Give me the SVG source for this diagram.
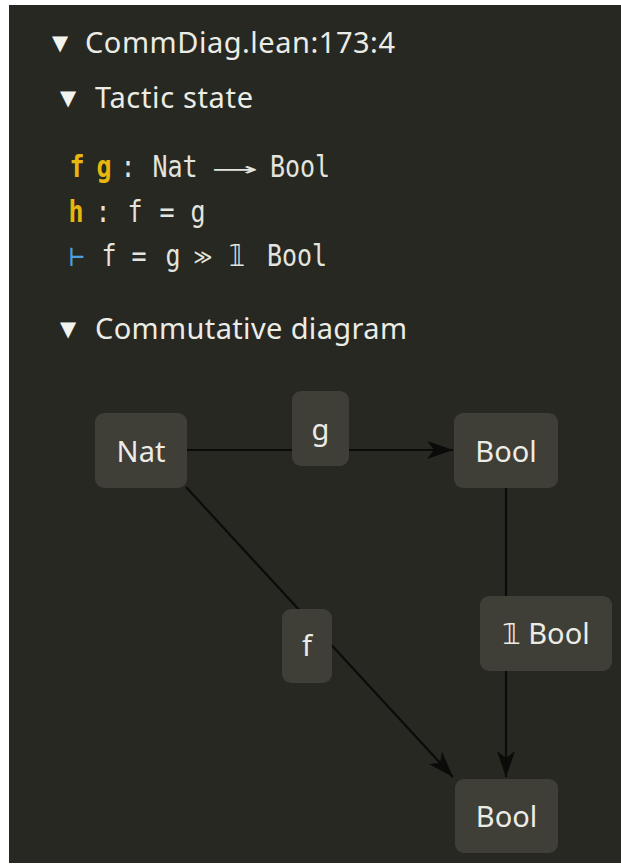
<svg xmlns="http://www.w3.org/2000/svg" width="621" height="865" viewBox="0 0 621 865">
<style>
  .hdr { font-family: "Noto Sans", "DejaVu Sans", sans-serif; font-size: 29px; fill: #ecece6; }
  .tri { font-family: "DejaVu Sans", sans-serif; font-size: 21px; fill: #f2f2ee; }
  .code { font-family: "DejaVu Sans Mono", "DejaVu Sans", monospace; font-size: 25px; fill: #e4e4de; text-anchor: middle; }
  .hyp { fill: #e8b70f; font-weight: bold; }
  .goal { fill: #4f9fe0; }
  .box { fill: #3f3e37; }
  .lbl { font-family: "Noto Sans", "DejaVu Sans", sans-serif; font-size: 29px; fill: #ecece6; text-anchor: middle; }
  .edge { stroke: #0b0b09; stroke-width: 2.2; fill: none; }
</style>
<defs>
  <marker id="arr" markerUnits="userSpaceOnUse" viewBox="0 0 26 18" markerWidth="26" markerHeight="18" refX="26" refY="9" orient="auto">
    <path d="M0,0 L26,9 L0,18 L7,9 z" fill="#0b0b09"/>
  </marker>
</defs>
<rect x="0" y="0" width="621" height="865" fill="#ffffff"/>
<rect x="9" y="5" width="612" height="858" fill="#272822"/>

<g id="headers">
  <text class="tri" x="52" y="50">▼</text>
  <text class="hdr" x="85" y="53" textLength="310">CommDiag.lean:173:4</text>
  <text class="tri" x="60" y="105">▼</text>
  <text class="hdr" x="95" y="108" textLength="158">Tactic state</text>
  <text class="tri" x="60" y="336">▼</text>
  <text class="hdr" x="95" y="339" textLength="312">Commutative diagram</text>
</g>

<g id="tactic-state">
  <g transform="translate(0,177) scale(1,1.17)">
    <text class="code hyp" x="77" y="0">f</text>
    <text class="code hyp" x="104" y="0">g</text>
    <text class="code" x="128" y="0">:</text>
    <text class="code" x="175" y="0">Nat</text>
    <text class="code" x="217" y="-1" style="text-anchor:start;font-size:20px" textLength="36" lengthAdjust="spacingAndGlyphs">⟶</text>
    <text class="code" x="300" y="0">Bool</text>
  </g>
  <g transform="translate(0,222) scale(1,1.17)">
    <text class="code hyp" x="76" y="0">h</text>
    <text class="code" x="103" y="0">:</text>
    <text class="code" x="135" y="0">f</text>
    <text class="code" x="167" y="0">=</text>
    <text class="code" x="198" y="0">g</text>
  </g>
  <g transform="translate(0,266) scale(1,1.17)">
    <text class="code goal" x="77" y="0">⊢</text>
    <text class="code" x="109" y="0">f</text>
    <text class="code" x="139" y="0">=</text>
    <text class="code" x="173" y="0">g</text>
    <text class="code" x="203" y="-2" style="font-size:18px">≫</text>
    <text class="code" x="237" y="0">𝟙</text>
    <text class="code" x="297" y="0">Bool</text>
  </g>
</g>

<g id="connectors">
  <line class="edge" x1="187" y1="450" x2="453" y2="450" marker-end="url(#arr)"/>
  <line class="edge" x1="506" y1="488" x2="506" y2="777" marker-end="url(#arr)"/>
  <line class="edge" x1="186" y1="487" x2="453" y2="777" marker-end="url(#arr)"/>
</g>

<g id="label-g">
  <rect class="box" x="292" y="391" width="57" height="75" rx="9"/>
  <text class="lbl" x="320.5" y="440">g</text>
</g>
<g id="label-f">
  <rect class="box" x="282" y="609" width="50" height="74" rx="9"/>
  <text class="lbl" x="307" y="656">f</text>
</g>
<g id="label-id">
  <rect class="box" x="480" y="596" width="132" height="75" rx="9"/>
  <text class="lbl" x="546" y="644">𝟙 Bool</text>
</g>

<g id="node-nat">
  <rect class="box" x="95" y="413" width="92" height="75" rx="9"/>
  <text class="lbl" x="141" y="462">Nat</text>
</g>
<g id="node-bool-top">
  <rect class="box" x="454" y="413" width="104" height="75" rx="9"/>
  <text class="lbl" x="506" y="462">Bool</text>
</g>
<g id="node-bool-bottom">
  <rect class="box" x="455" y="779" width="103" height="74" rx="9"/>
  <text class="lbl" x="506.5" y="827">Bool</text>
</g>
</svg>
